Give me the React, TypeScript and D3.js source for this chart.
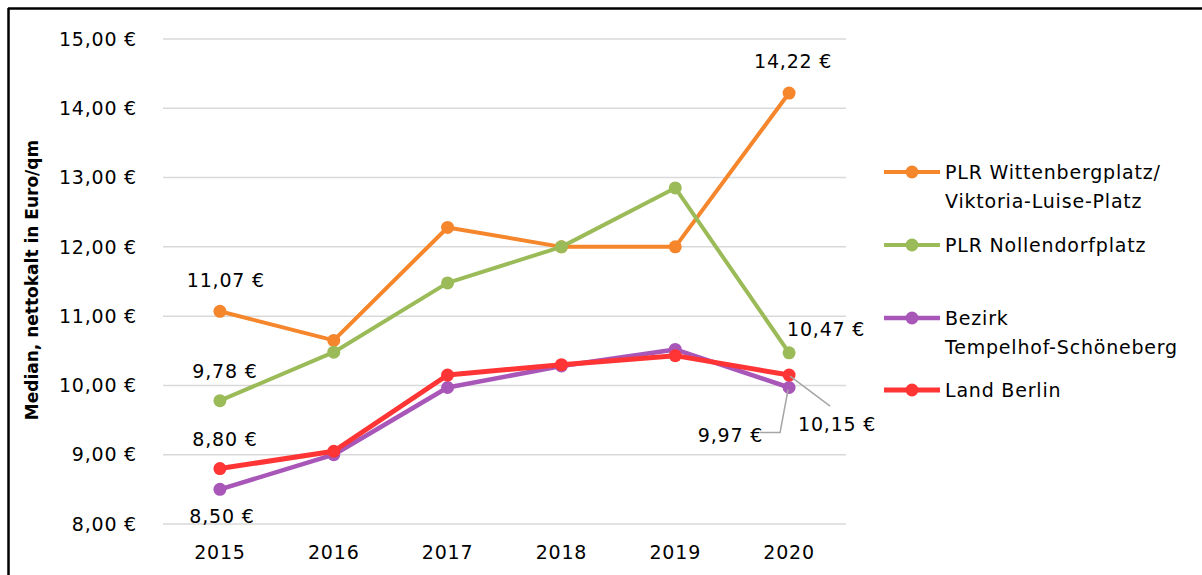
import React from "react";
import * as d3 from "d3";

const years = ["2015", "2016", "2017", "2018", "2019", "2020"];
const wittenberg = [11.07, 10.65, 12.28, 12.0, 12.0, 14.22];
const nollendorf = [9.78, 10.48, 11.48, 12.0, 12.85, 10.47];
const bezirk = [8.5, 9.0, 9.97, 10.28, 10.52, 9.97];
const berlin = [8.8, 9.05, 10.15, 10.3, 10.43, 10.15];
const yTicks = [8, 9, 10, 11, 12, 13, 14, 15];

const seriesNames = [
  ["PLR Wittenbergplatz/", "Viktoria-Luise-Platz"],
  ["PLR Nollendorfplatz"],
  ["Bezirk", "Tempelhof-Schöneberg"],
  ["Land Berlin"],
];
const colors = ["#F5862C", "#9BBB59", "#A856B8", "#FF3535"];
const widths = [4, 4, 4.5, 5];

const fmt = (v: number) => v.toFixed(2).replace(".", ",") + " €";

export default function App() {
  const W = 1202, H = 575;
  const left = 163, right = 846, top = 39, bottom = 524;
  const x = d3.scalePoint<string>().domain(years).range([left, right]).padding(0.5);
  const y = d3.scaleLinear().domain([8, 15]).range([bottom, top]);
  const data = [wittenberg, nollendorf, bezirk, berlin];
  const line = d3.line<number>().x((_, i) => x(years[i])!).y((d) => y(d));
  const font = "'DejaVu Sans', sans-serif";
  const fs = 19;
  const ls = 0.8;

  const labels = [
    { s: 0, i: 0, dx: 6, dy: -31, anchor: "middle" },
    { s: 0, i: 5, dx: 4, dy: -32, anchor: "middle" },
    { s: 1, i: 0, dx: 5, dy: -29, anchor: "middle" },
    { s: 1, i: 5, dx: 37, dy: -24, anchor: "middle" },
    { s: 3, i: 0, dx: 5, dy: -29, anchor: "middle" },
    { s: 2, i: 0, dx: 2, dy: 27, anchor: "middle" },
    { s: 2, i: 5, dx: -26, dy: 48, anchor: "end" },
    { s: 3, i: 5, dx: 48, dy: 49, anchor: "middle" },
  ];

  const legendY = [172, 245, 318, 390];

  return (
    <div style={{ position: "fixed", left: 0, top: 0 }}>
      <svg width={W} height={H} style={{ display: "block", background: "#fff" }}>
        <rect x={0} y={0} width={W} height={H} fill="#fff" />
        <line x1={8} x2={W} y1={8.5} y2={8.5} stroke="#000" strokeWidth={2.5} />
        <line x1={8.5} x2={8.5} y1={8} y2={H} stroke="#000" strokeWidth={2.5} />
        {yTicks.map((t) => (
          <g key={t}>
            <line x1={left} x2={right} y1={y(t)} y2={y(t)} stroke="#D9D9D9" strokeWidth={1.5} />
            <text x={137} y={y(t)} dy="0.35em" textAnchor="end" fontFamily={font} fontSize={fs} letterSpacing={ls} fill="#000">
              {fmt(t)}
            </text>
          </g>
        ))}
        {years.map((yr) => (
          <text key={yr} x={x(yr)} y={559} textAnchor="middle" fontFamily={font} fontSize={fs} letterSpacing={ls} fill="#000">
            {yr}
          </text>
        ))}
        <text
          transform="translate(38,280) rotate(-90)"
          textAnchor="middle"
          fontFamily={font}
          fontWeight="bold"
          fontSize={17}
          fill="#000"
        >
          Median, nettokalt in Euro/qm
        </text>
        {data.map((d, s) => (
          <g key={s}>
            <path d={line(d)!} fill="none" stroke={colors[s]} strokeWidth={widths[s]} strokeLinejoin="round" />
            {d.map((v, i) => (
              <circle key={i} cx={x(years[i])} cy={y(v)} r={6.5} fill={colors[s]} />
            ))}
          </g>
        ))}
        <polyline
          points={`${x("2020")! - 29},${y(bezirk[5]) + 45} ${x("2020")! - 9},${y(bezirk[5]) + 45} ${x("2020")! - 1},${y(bezirk[5]) + 2}`}
          fill="none"
          stroke="#A6A6A6"
          strokeWidth={1.5}
        />
        <line
          x1={x("2020")! + 1}
          y1={y(berlin[5]) + 1}
          x2={x("2020")! + 41}
          y2={y(berlin[5]) + 31}
          stroke="#A6A6A6"
          strokeWidth={1.5}
        />
        {labels.map((l, k) => (
          <text
            key={k}
            x={x(years[l.i])! + l.dx}
            y={y(data[l.s][l.i]) + l.dy}
            dy="0.35em"
            textAnchor={l.anchor}
            fontFamily={font}
            fontSize={fs}
            letterSpacing={ls}
            fill="#000"
          >
            {fmt(data[l.s][l.i])}
          </text>
        ))}
        {seriesNames.map((names, s) => (
          <g key={s}>
            <line x1={884} x2={940} y1={legendY[s]} y2={legendY[s]} stroke={colors[s]} strokeWidth={widths[s]} />
            <circle cx={912} cy={legendY[s]} r={6.5} fill={colors[s]} />
            {names.map((n, j) => (
              <text key={j} x={945} y={legendY[s] + j * 29} dy="0.35em" fontFamily={font} fontSize={fs} letterSpacing={ls} fill="#000">
                {n}
              </text>
            ))}
          </g>
        ))}
      </svg>
    </div>
  );
}
